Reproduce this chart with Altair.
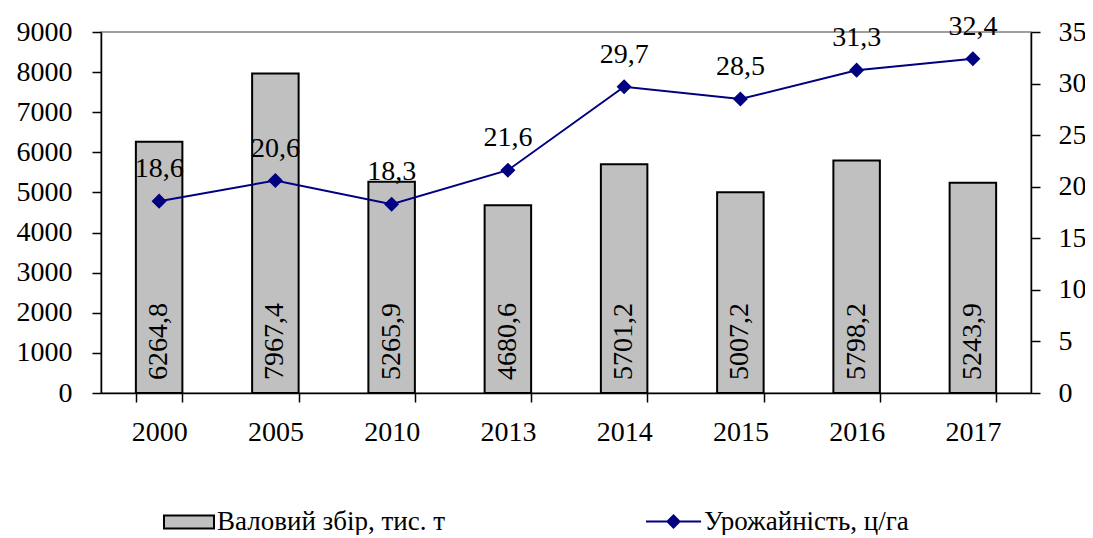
import altair as alt
import pandas as pd

years = ["2000", "2005", "2010", "2013", "2014", "2015", "2016", "2017"]
harvest = [6264.8, 7967.4, 5265.9, 4680.6, 5701.2, 5007.2, 5798.2, 5243.9]
yield_ = [18.6, 20.6, 18.3, 21.6, 29.7, 28.5, 31.3, 32.4]

bar_name = "Валовий збір, тис. т"
line_name = "Урожайність, ц/га"

def fmt(v):
    return f"{v:.1f}".replace(".", ",")

df = pd.DataFrame({
    "year": years,
    "harvest": harvest,
    "yield": yield_,
    "hlabel": [fmt(v) for v in harvest],
    "ylabel": [fmt(v) for v in yield_],
    "bar_s": [bar_name] * len(years),
    "line_s": [line_name] * len(years),
})

FONT = "Liberation Serif"
FS = 28
LFS = 27

axis_style = dict(domainColor="black", domainWidth=1.5, tickColor="black",
                  tickWidth=1.5, labelColor="black", labelFont=FONT,
                  labelFontSize=FS, grid=False, tickSize=9)

x = alt.X("year:N", sort=years, title=None,
          scale=alt.Scale(paddingInner=0.6, paddingOuter=0.3),
          axis=alt.Axis(labelAngle=0, tickBand="extent", labelPadding=16,
                        **axis_style))

base = alt.Chart(df)

bars = base.mark_bar(stroke="black", strokeWidth=2).encode(
    x=x,
    y=alt.Y("harvest:Q", title=None,
            scale=alt.Scale(domain=[0, 9000], nice=False),
            axis=alt.Axis(values=list(range(0, 9001, 1000)), format="d",
                          labelPadding=20, **axis_style)),
    fill=alt.Fill("bar_s:N", title=None,
                  scale=alt.Scale(domain=[bar_name], range=["#c0c0c0"]),
                  legend=alt.Legend(orient="none", legendX=62, legendY=464,
                                    symbolType="M-1,-0.26H1V0.26H-1Z",
                                    symbolSize=2500, symbolStrokeColor="black",
                                    symbolStrokeWidth=2, labelFontSize=LFS,
                                    labelFont=FONT, labelColor="black",
                                    labelOffset=2, labelLimit=0)),
)

bar_text = base.mark_text(angle=270, align="left", baseline="middle", dx=13,
                          font=FONT, fontSize=FS, color="black").encode(
    x=alt.X("year:N", sort=years),
    y=alt.datum(0),
    text="hlabel:N",
)

line = base.mark_line(strokeWidth=2,
                      point=alt.OverlayMarkDef(shape="diamond", filled=True,
                                               fill="#000080", size=150)).encode(
    x=alt.X("year:N", sort=years),
    y=alt.Y("yield:Q", title=None,
            scale=alt.Scale(domain=[0, 35], nice=False),
            axis=alt.Axis(orient="right", values=list(range(0, 36, 5)),
                          labelPadding=18, **axis_style)),
    stroke=alt.Stroke("line_s:N", title=None,
                      scale=alt.Scale(domain=[line_name], range=["#000080"]),
                      legend=alt.Legend(orient="none", legendX=544, legendY=461,
                                        symbolType="M-1,0H1M0,-0.22L0.22,0L0,0.22L-0.22,0Z",
                                        symbolSize=3025, symbolFillColor="#000080",
                                        symbolStrokeWidth=2, labelFontSize=LFS,
                                        labelFont=FONT, labelColor="black",
                                        labelOffset=2, labelLimit=0)),
)

line_text = base.mark_text(align="center", baseline="alphabetic", dy=-24,
                           font=FONT, fontSize=FS, color="black").encode(
    x=alt.X("year:N", sort=years),
    y=alt.Y("yield:Q"),
    text="ylabel:N",
)

left = alt.layer(bars, bar_text)
right = alt.layer(line, line_text)

chart = alt.layer(left, right).resolve_scale(y="independent").properties(
    width=930, height=361,
    autosize=alt.AutoSizeParams(type="none"),
    padding={"left": 93, "top": 24, "right": 54, "bottom": 142},
).configure_view(stroke="#808080", strokeWidth=1.5)

chart.save("out.html", embed_options={"renderer": "svg", "actions": False})
